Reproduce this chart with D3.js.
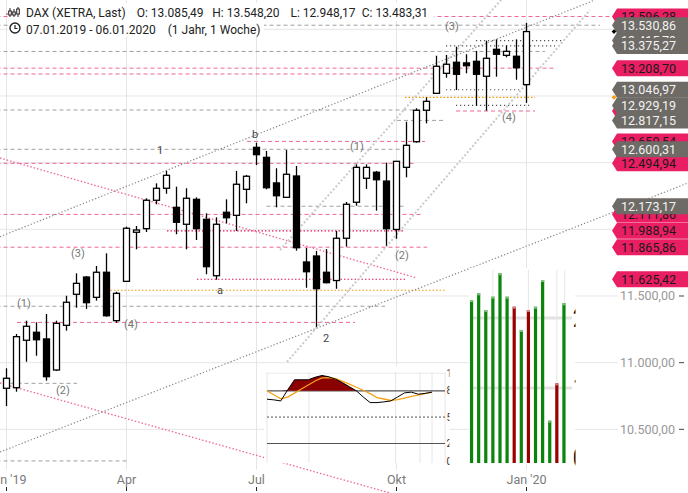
<!DOCTYPE html>
<html><head><meta charset="utf-8">
<script src="https://cdn.jsdelivr.net/npm/d3@7"></script>
<style>
html,body{margin:0;padding:0;background:#fff;}
svg{display:block;font-family:Roboto,"Open Sans",sans-serif;}
</style></head><body>
<svg id="c" width="688" height="493"></svg>
<script>
// ---------- data ----------
const opens  = [10808,10812,11168,11228,11178,10945,11280,11513,11642,11490,11678,11315,11610,11978,12005,12218,12308,12165,12038,12225,12075,11652,12128,12105,12300,12615,12540,12348,12240,12400,11755,11800,11678,11616,11933,12203,12383,12428,12362,11999,12465,12657,12893,13020,13170,13253,13248,13260,13148,13350,13305,13298,13085.49];
const highs  = [10958,11215,11315,11303,11365,11315,11502,11670,11650,11725,11820,11532,12020,12025,12233,12345,12438,12320,12308,12240,12120,12090,12225,12438,12408,12650,12588,12458,12595,12475,11860,11838,11852,11988,12205,12488,12488,12438,12500,12512,12807,12908,12990,13302,13308,13370,13313,13338,13415,13425,13380,13425,13548.20];
const lows   = [10675,10782,11007,11052,10865,10938,11240,11412,11403,11465,11345,11300,11605,11850,11980,12188,12267,11963,11850,11920,11663,11622,12045,11988,12195,12482,12300,12165,12235,11840,11562,11268,11595,11554,11870,12177,12303,12140,11877,11929,12390,12650,12795,13015,13137,13045,13170,12927,12890,13145,13290,13122,12948.17];
const closes = [10883,11195,11273,11172,10895,11295,11453,11595,11450,11678,11352,11520,12008,11995,12218,12308,12405,12053,12233,12005,11720,12038,12087,12338,12398,12560,12312,12252,12413,11862,11682,11555,11600,11933,12188,12465,12465,12372,12005,12510,12630,12893,12960,13223,13238,13163,13227,13163,13283,13313,13335,13212,13483.31];

const tickWeeks  = [0,12,25,39,52];
const tickLabels = ["Jan '19","Apr","Jul","Okt","Jan '20"];
const priceTicks = [10500,11000,11500,12000,12500,13000,13500];

// horizontal levels (week-index extent)
const levelValues = [13596.28,13530.86,13416,13375.27,13334,13208.70,13165,13046.97,12990,12929.19,12887.50,12895,12817.15,12659.54,12600.31,12494.94,12173.17,12111.86,11988.94,11865.86,11625.42,11543,11423,11302,10845,10263];
const levelStart  = [-1,-1,46.95,43.95,-1,-1,-1,43.95,39.85,44.95,44.95,-1,39.05,24.05,-1,-1,26.0,-1,16.05,-1,19.05,10.05,-1,1.05,-1,-1];
const levelEnd    = [60.55,59.35,55.65,54.85,53.85,54.95,43.35,51.55,52.85,52.55,52.85,41.35,43.85,41.85,39.35,40.85,40.0,41.55,39.85,42.05,39.85,43.85,37.85,34.85,7.05,12.05];
const levelKind   = ["pinkDash","greyDash","darkDot","darkDot","greyDash","pinkDash","pinkDash","darkDot","orangeDot","darkDot","pinkDash","greyDash","greyDash","pinkDash","greyDash","pinkDash","greyDash","pinkDash","pinkDot","pinkDash","pinkDot","orangeDot","greyDash","pinkDash","greyDash","greyDash"];

// trend lines
const trendX0 = [-0.65,-0.65,-0.65,27.35,28.05,-0.65];
const trendV0 = [12535,10847.5,11945,11845,11005,10330];
const trendX1 = [41.05,38.35,58.85,49.45,58.35,68.15];
const trendV1 = [11635,10022.5,13720,13720,13645,12347.5];
const trendKind = ["pinkDiag","pinkDiag","greyDiag","lightDiag","lightDiag","greyDiag"];

// wave labels
const noteText = ["(1)","(2)","(3)","(4)","1","b","a","(1)","(2)","2","(3)","(4)"];
const noteWeek = [1.75,5.65,7.15,12.45,15.35,24.85,21.35,35.05,39.55,31.95,44.55,50.25];
const noteValue= [11447.5,10795,11822.5,11290,12595,12715,11545,12625,11807.5,11185,13525,12842.5];

// price tags
const pinkTags = [13596.28,13208.70,12887.50,12659.54,12494.94,12111.86,11988.94,11865.86,11625.42];
const greyTags = [13415.79,13530.86,13375.27,13046.97,12929.19,12817.15,12600.31,12173.17];
const markerBlack = 13483.31, markerOrange = 12990;

// oscillator
const oscK = [70.5,69.7,68.5,81,92.6,92.6,92.6,95.5,97.5,96,93.2,89.2,84.6,80,73,66.6,66.6,67.4,68.5,73,77.7,78.5,76.2,77.1,78.5];
const oscD = [80,75.5,71,72.8,77.4,82.1,86.7,91.2,94.7,95.1,93.8,90.8,87.6,84.1,80.7,76.8,72.3,70.7,69,69.9,71.8,73.7,75.2,76.8,78.5];
const oscLevels = [80,50,20];
const oscLabels = [100,80,50,20,0];
const oscGrid = [0,6.1,18.7,22.25,24,25.9];

// histogram
const histValues = [2.257,2.353,2.114,2.304,2.639,2.304,2.161,1.829,2.114,2.161,2.543,0.533,1.067,2.21];
const histUp     = [1,1,1,1,1,1,0,1,0,1,1,1,0,1];
const histGrid   = [1,2];
const histLabels = [0,1,2];
const histVGrid  = [3,8,12,13.1];

// ---------- drawing ----------
const svg = d3.select("#c");
const loc = d3.formatLocale({decimal:",",thousands:".",grouping:[3],currency:["",""]});
const fmt = loc.format(",.2f");
const x = d3.scaleLinear().domain([0,52]).range([6.5,526.5]);
const y = d3.scaleLinear().domain([10500,13500]).range([429.33,29.33]);

const styles = {
  pinkDash:{stroke:"#f0649c",dash:"4,3",w:1},
  pinkDot:{stroke:"#e8175d",dash:"1.5,2",w:1.2},
  greyDash:{stroke:"#a0a0a0",dash:"4,3",w:1},
  darkDot:{stroke:"#555",dash:"1.2,2.8",w:1.2},
  orangeDot:{stroke:"#f59b00",dash:"1.5,2",w:1.2},
  pinkDiag:{stroke:"#f0649c",dash:"1.5,2",w:1.3},
  greyDiag:{stroke:"#8a8a8a",dash:"1.3,2",w:1.2},
  lightDiag:{stroke:"#cacaca",dash:"2,2",w:2}
};

// gridlines
const g0 = svg.append("g");
g0.selectAll("line.hg").data(priceTicks).join("line")
  .attr("x1",0).attr("x2",618).attr("y1",d=>y(d)).attr("y2",d=>y(d))
  .attr("stroke","#e6e6e6").attr("stroke-width",1);
g0.selectAll("line.vg").data(tickWeeks).join("line")
  .attr("x1",d=>x(d)).attr("x2",d=>x(d)).attr("y1",0).attr("y2",470)
  .attr("stroke","#e6e6e6").attr("stroke-width",1);

// y axis labels
const ya = svg.append("g");
ya.selectAll("text").data(priceTicks).join("text")
  .attr("x",675).attr("y",d=>y(d)).attr("dy","0.35em").attr("text-anchor","end")
  .attr("font-size",12.5).attr("fill","#999").text(d=>fmt(d));
ya.selectAll("line").data(priceTicks).join("line")
  .attr("x1",679).attr("x2",684).attr("y1",d=>y(d)).attr("y2",d=>y(d))
  .attr("stroke","#444");

// levels
const lv = svg.append("g");
levelValues.forEach((v,i)=>{
  const s = styles[levelKind[i]];
  lv.append("line").attr("x1",x(levelStart[i])).attr("x2",x(levelEnd[i]))
    .attr("y1",y(v)).attr("y2",y(v)).attr("stroke",s.stroke)
    .attr("stroke-width",s.w).attr("stroke-dasharray",s.dash);
});
// trend lines
trendKind.forEach((k,i)=>{
  const s = styles[k];
  lv.append("line").attr("x1",x(trendX0[i])).attr("y1",y(trendV0[i]))
    .attr("x2",x(trendX1[i])).attr("y2",y(trendV1[i]))
    .attr("stroke",s.stroke).attr("stroke-width",s.w).attr("stroke-dasharray",s.dash);
});

// candles
const cg = svg.append("g");
const idx = d3.range(opens.length);
cg.selectAll("line").data(idx).join("line")
  .attr("x1",i=>x(i)).attr("x2",i=>x(i))
  .attr("y1",i=>y(highs[i])).attr("y2",i=>y(lows[i]))
  .attr("stroke","#000").attr("stroke-width",1.3);
cg.selectAll("rect").data(idx).join("rect")
  .attr("x",i=>x(i)-3).attr("width",6)
  .attr("y",i=>y(Math.max(opens[i],closes[i])))
  .attr("height",i=>Math.max(1,Math.abs(y(opens[i])-y(closes[i]))))
  .attr("fill",i=>closes[i]>=opens[i]?"#fff":"#000")
  .attr("stroke","#000").attr("stroke-width",1.3);

// notes
svg.append("g").selectAll("text").data(noteText).join("text")
  .attr("x",(d,i)=>x(noteWeek[i])).attr("y",(d,i)=>y(noteValue[i]))
  .attr("dy","0.35em").attr("text-anchor","middle").attr("font-size",11)
  .attr("fill",d=>d.startsWith("(")?"#777":"#444").text(d=>d);

// oscillator panel
const defs = svg.append("defs");
defs.append("clipPath").attr("id","oscClip").append("rect").attr("x",262).attr("y",360).attr("width",187.5).attr("height",110);
defs.append("clipPath").attr("id","histClip").append("rect").attr("x",466).attr("y",260).attr("width",109.5).attr("height",210);
const op = svg.append("g").attr("clip-path","url(#oscClip)");
const xo = d3.scaleLinear().domain([0,24]).range([267,432]);
const yo = d3.scaleLinear().domain([0,100]).range([461,373.3]);
op.append("rect").attr("x",264).attr("y",366).attr("width",190).attr("height",97).attr("fill","#fff");
op.selectAll("line.vg").data(oscGrid).join("line")
  .attr("x1",d=>xo(d)).attr("x2",d=>xo(d)).attr("y1",372).attr("y2",463)
  .attr("stroke","#e6e6e6");
op.append("line").attr("x1",267).attr("x2",445).attr("y1",yo(100)).attr("y2",yo(100)).attr("stroke","#ececec");
op.selectAll("line.lv").data(oscLevels).join("line")
  .attr("x1",267).attr("x2",445).attr("y1",d=>yo(d)).attr("y2",d=>yo(d))
  .attr("stroke",d=>d===50?"#9a9a9a":"#555")
  .attr("stroke-width",d=>d===50?1.6:1.1)
  .attr("stroke-dasharray",d=>d===50?"2,2":null);
const oi = d3.range(oscK.length);
op.append("path").datum(oi)
  .attr("d",d3.area().x(i=>xo(i)).y0(yo(80)).y1(i=>yo(Math.max(80,oscK[i]))))
  .attr("fill","#8b0000");
op.append("path").datum(oi).attr("d",d3.line().x(i=>xo(i)).y(i=>yo(oscD[i])))
  .attr("fill","none").attr("stroke","#f5a21a").attr("stroke-width",1.3);
op.append("path").datum(oi).attr("d",d3.line().x(i=>xo(i)).y(i=>yo(oscK[i])))
  .attr("fill","none").attr("stroke","#000").attr("stroke-width",1);
op.selectAll("text").data(oscLabels).join("text")
  .attr("x",446.5).attr("y",d=>yo(d)).attr("dy","0.35em").attr("font-size",10)
  .attr("fill","#333").text(d=>d);

// histogram panel
const hp = svg.append("g").attr("clip-path","url(#histClip)");
const xh = d3.scaleBand().domain(d3.range(histValues.length)).range([468,567.5]);
const yh = d3.scaleLinear().domain([0,2]).range([458,318]);
hp.append("rect").attr("x",469).attr("y",268).attr("width",106).attr("height",196).attr("fill","#fff");
hp.selectAll("line.hg").data(histGrid).join("line")
  .attr("x1",470).attr("x2",572).attr("y1",d=>yh(d)).attr("y2",d=>yh(d))
  .attr("stroke","#e2e2e2").attr("stroke-width",3);
hp.selectAll("line.vg").data(histVGrid).join("line")
  .attr("x1",d=>xh(0)+xh.step()*(d+0.5)).attr("x2",d=>xh(0)+xh.step()*(d+0.5))
  .attr("y1",270).attr("y2",463).attr("stroke","#e6e6e6");
const hb = d3.range(histValues.length);
hp.selectAll("rect.bar").data(hb).join("rect").attr("class","bar")
  .attr("x",i=>xh(i)+xh.bandwidth()/2-1.6).attr("width",3.2)
  .attr("y",i=>yh(histValues[i])).attr("height",i=>463-yh(histValues[i]))
  .attr("fill",i=>histUp[i]?"#0a840a":"#990000");
hp.selectAll("rect.cap").data(hb).join("rect").attr("class","cap")
  .attr("x",i=>xh(i)+xh.bandwidth()/2-1.6).attr("width",3.2)
  .attr("y",i=>yh(histValues[i])).attr("height",2)
  .attr("fill",i=>histUp[i]?"#7fc27f":"#d08080");
hp.selectAll("text").data(histLabels).join("text")
  .attr("x",572.5).attr("y",d=>yh(d)).attr("dy","0.35em").attr("font-size",26)
  .attr("fill","#111").text(d=>d===0?"0":d===1?"1":"2");

// header
const hd = svg.append("g").attr("font-size",12).attr("fill","#222");
hd.append("rect").attr("x",8).attr("y",3).attr("width",426).attr("height",18).attr("fill","#fff");
hd.append("rect").attr("x",8).attr("y",21).attr("width",256).attr("height",16).attr("fill","#fff");
// candle icon
const ic = hd.append("g").attr("stroke","#222").attr("stroke-width",1);
[[10,8,17,11,15],[14,9,17,12,15],[18,7,17,9,14]].forEach(a=>{
  ic.append("line").attr("x1",a[0]).attr("x2",a[0]).attr("y1",a[1]).attr("y2",a[2]);
  ic.append("rect").attr("x",a[0]-1.3).attr("y",a[3]).attr("width",2.6).attr("height",a[4]-a[3]).attr("fill","#fff");
});
ic.append("line").attr("x1",7).attr("x2",7).attr("y1",13).attr("y2",15).attr("stroke","#e8175d");
hd.append("circle").attr("cx",15).attr("cy",28).attr("r",5).attr("fill","none").attr("stroke","#222").attr("stroke-width",1.4);
hd.append("path").attr("d","M15,25 V28.5 H17.5").attr("fill","none").attr("stroke","#222").attr("stroke-width",1.2);
const hdr1 = [["DAX (XETRA, Last)",26],["O: "+fmt(opens[52]),136.7],["H: "+fmt(highs[52]),212.3],["L: "+fmt(lows[52]),290.5],["C: "+fmt(closes[52]),361.7]];
hdr1.forEach(s=>hd.append("text").attr("x",s[1]).attr("y",17).text(s[0]));
hd.append("text").attr("x",26).attr("y",33.5).text("07.01.2019 - 06.01.2020");
hd.append("text").attr("x",167.7).attr("y",33.5).text("(1 Jahr, 1 Woche)");

// tags
function tagPath(v){const t=y(v);return `M612,${t} L617,${t-8} L690,${t-8} L690,${t+8} L617,${t+8} Z`;}
const tg = svg.append("g").attr("font-size",12.5);
pinkTags.forEach(v=>{
  tg.append("path").attr("d",tagPath(v)).attr("fill","#e91e63");
  tg.append("text").attr("x",621).attr("y",y(v)).attr("dy","0.36em").attr("fill","#1a1a1a").text(fmt(v));
});
greyTags.forEach(v=>{
  tg.append("path").attr("d",tagPath(v)).attr("fill","#6e6a66");
  tg.append("text").attr("x",621).attr("y",y(v)).attr("dy","0.36em").attr("fill","#f2f2f2").text(fmt(v));
});
const sym = d3.symbol().type(d3.symbolSquare).size(11);
svg.append("path").attr("d",sym()).attr("transform",`translate(614,${y(markerBlack)}) rotate(45)`).attr("fill","#000");
svg.append("path").attr("d",sym()).attr("transform",`translate(614,${y(markerOrange)}) rotate(45)`).attr("fill","#f59b00");

// x axis
const xa = svg.append("g");
xa.selectAll("text").data(tickWeeks).join("text")
  .attr("x",d=>x(d)).attr("y",484).attr("text-anchor","middle")
  .attr("font-size",12.5).attr("fill","#7a7a7a").text((d,i)=>tickLabels[i]);
xa.selectAll("line").data(tickWeeks).join("line")
  .attr("x1",d=>x(d)).attr("x2",d=>x(d)).attr("y1",487).attr("y2",491).attr("stroke","#222");
</script>
</body></html>
